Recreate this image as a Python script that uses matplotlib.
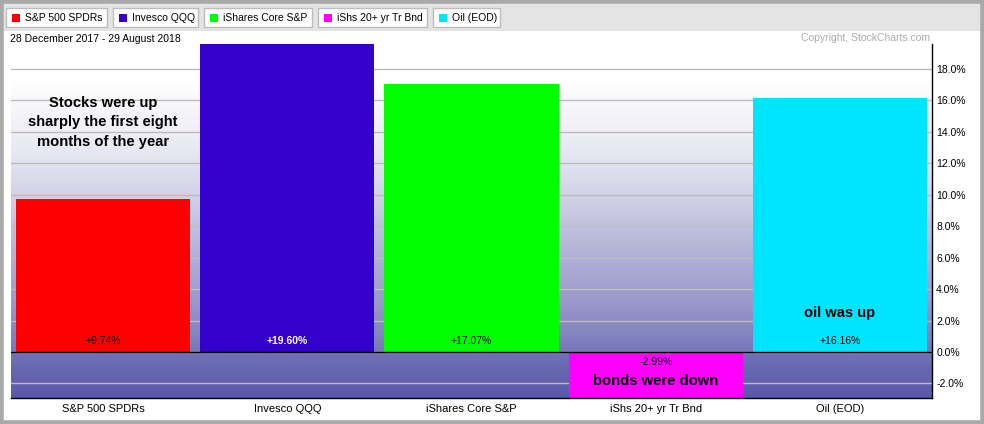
import numpy as np
import matplotlib
matplotlib.use("Agg")
import matplotlib.pyplot as plt
from matplotlib.patches import Rectangle
from matplotlib.colors import LinearSegmentedColormap

plt.rcParams['font.family'] = ['Liberation Sans', 'DejaVu Sans']

# data
names = ['S&P 500 SPDRs', 'Invesco QQQ', 'iShares Core S&P', 'iShs 20+ yr Tr Bnd', 'Oil (EOD)']
pct = [9.74, 19.60, 17.07, -2.99, 16.16]
colors = ['#ff0000', '#3300cc', '#00ff00', '#ff00ff', '#00e5ff']
yticks = [-2, 0, 2, 4, 6, 8, 10, 12, 14, 16, 18]
date_range = '28 December 2017 - 29 August 2018'

W, H = 984, 424
fig = plt.figure(figsize=(W / 100, H / 100), dpi=100)
fig.patch.set_facecolor('white')

def px(x0, y0, w, h):
    # pixel box from top-left -> figure fraction
    return (x0 / W, 1 - (y0 + h) / H, w / W, h / H)

# frame + top bar
l, b, w, h = px(0, 0, W, 31)
fig.patches.append(Rectangle((l, b), w, h, transform=fig.transFigure,
                             facecolor='#e4e4e4', edgecolor='none', zorder=0))
fig.patches.append(Rectangle((0.0015, 0.003), 0.997, 0.995, transform=fig.transFigure,
                             facecolor='none', edgecolor='#a9a9a9', linewidth=4, zorder=5))

ax = fig.add_axes([11 / W, 1 - 398 / H, (932 - 11) / W, (398 - 33) / H])
ymin, ymax = -2.93, 20.29
x = np.arange(len(names))
ax.set_xlim(-0.5, len(names) - 0.5)
ax.set_ylim(ymin, ymax)

# background gradient
cmap_up = LinearSegmentedColormap.from_list(
    'up', [(0, '#7878b8'), (0.16, '#9a9acc'), (0.32, '#b4b4d8'), (0.48, '#d0d0e6'),
           (0.63, '#e8e8f2'), (0.85, '#ffffff'), (1, '#ffffff')])
cmap_dn = LinearSegmentedColormap.from_list('dn', ['#5858a8', '#7272b6'])
ax.imshow(np.linspace(0, 1, 256).reshape(-1, 1), cmap=cmap_up, origin='lower',
          extent=(-0.5, len(names) - 0.5, 0, ymax), aspect='auto', zorder=0)
ax.imshow(np.linspace(0, 1, 256).reshape(-1, 1), cmap=cmap_dn, origin='lower',
          extent=(-0.5, len(names) - 0.5, ymin, 0), aspect='auto', zorder=0)

for t in yticks:
    ax.axhline(t, color='#bcbcbc', linewidth=1, zorder=1)
ax.axhline(0, color='black', linewidth=1, zorder=3)

ax.bar(x, pct, width=0.945, color=colors, zorder=2)

for i, v in enumerate(pct):
    if v >= 0:
        ax.text(i, 0.35, '+%.2f%%' % v, ha='center', va='bottom', fontsize=7.5,
                color='white' if i == 1 else 'black',
                fontweight='bold' if i == 1 else 'normal', zorder=4)
    else:
        ax.text(i, -0.35, '%.2f%%' % v, ha='center', va='top', fontsize=7.5, zorder=4)

ax.text(0, 14.6, 'Stocks were up\nsharply the first eight\nmonths of the year', ha='center',
        va='center', fontsize=10.6, fontweight='bold', linespacing=1.5, zorder=4)
ax.text(4, 2.5, 'oil was up', ha='center', va='center', fontsize=10.6, fontweight='bold', zorder=4)
ax.text(3, -1.85, 'bonds were down', ha='center', va='center', fontsize=10.6, fontweight='bold', zorder=4)

ax.set_xticks(x)
ax.set_xticklabels(names, fontsize=8)
ax.yaxis.tick_right()
ax.set_yticks(yticks)
ax.set_yticklabels(['%.1f%%' % t for t in yticks], fontsize=7.5)
ax.tick_params(length=0, pad=3)
ax.tick_params(axis='x', pad=4)
for s in ['top', 'left']:
    ax.spines[s].set_visible(False)
ax.spines['right'].set_bounds(ymin, max(pct))
ax.spines['right'].set_linewidth(1)
ax.spines['bottom'].set_linewidth(1)

# header texts
fig.text(10 / W, 1 - 39 / H, date_range, fontsize=7.5, va='center', ha='left')
fig.text(930 / W, 1 - 38 / H, 'Copyright, StockCharts.com', fontsize=7.5, va='center',
         ha='right', color='#ababab')

# legend boxes
box_left = [6, 113, 204, 318, 433]
box_w = [101, 85, 108, 109, 67]
for i, name in enumerate(names):
    l, b, w, h = px(box_left[i], 8, box_w[i], 19)
    fig.patches.append(Rectangle((l, b), w, h, transform=fig.transFigure,
                                 facecolor='white', edgecolor='#bdbdbd', linewidth=1, zorder=1))
    l2, b2, w2, h2 = px(box_left[i] + 6, 14, 8, 8)
    fig.patches.append(Rectangle((l2, b2), w2, h2, transform=fig.transFigure,
                                 facecolor=colors[i], edgecolor='none', zorder=2))
    fig.text((box_left[i] + 19) / W, 1 - 18 / H, name, fontsize=7.5, va='center', ha='left')

fig.savefig('out.png', dpi=100)
